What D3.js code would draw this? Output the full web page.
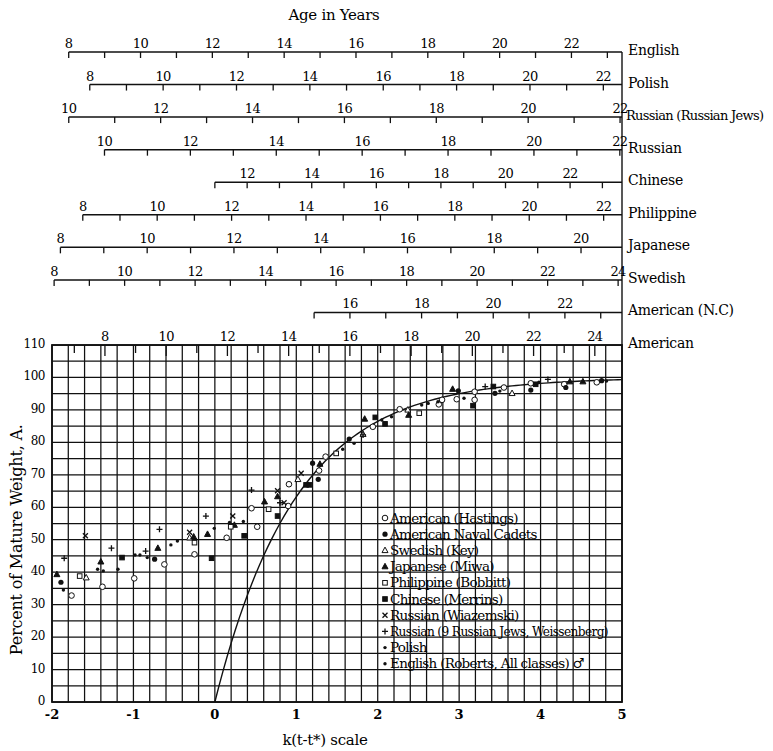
<!DOCTYPE html>
<html>
<head>
<meta charset="utf-8">
<script src="https://cdn.jsdelivr.net/npm/d3@7"></script>
<style>
  body { margin: 0; background: #fff; }
  text { font-family: "DejaVu Serif", serif; fill: #000; }
</style>
</head>
<body>
<div id="chart"></div>
<script>
// age scales, one row each, top to bottom (last one sits on the plot border)
const scaleNames = ["English", "Polish", "Russian (Russian Jews)", "Russian", "Chinese",
  "Philippine", "Japanese", "Swedish", "American (N.C)", "American"];
const scaleTStar = [12.07, 11.41, 13.18, 12.57, 11.0, 11.55, 11.56, 12.56, 12.23, 11.59];
const scaleK = [0.441, 0.4505, 0.5642, 0.5274, 0.3966, 0.4569, 0.5328, 0.4329, 0.44, 0.376];
const scaleStart = [8, 8, 10, 10, 11, 8, 8, 8, 15, 7];

const yTicks = [0, 10, 20, 30, 40, 50, 60, 70, 80, 90, 100, 110];
const xTicks = [-2, -1, 0, 1, 2, 3, 4, 5];

// observed points, [k(t-t*), percent]
const hastings = [[-1.76, 32.8], [-1.38, 35.5], [-0.99, 38.1], [-0.62, 42.4], [-0.25, 45.5], [0.145, 50.6],
  [0.52, 54.0], [0.45, 59.7], [0.90, 60.4], [0.91, 67.1], [1.28, 71.3], [1.36, 75.6], [1.94, 84.8],
  [2.27, 90.2], [2.75, 91.7], [2.79, 93.1], [2.97, 93.3], [3.19, 95.6], [3.19, 93.1], [3.55, 96.9],
  [3.88, 98.2], [4.29, 97.9], [4.69, 98.5]];
const naval = [[-1.89, 36.9], [-0.74, 44.0], [1.20, 73.6], [1.27, 68.6], [1.65, 81.0], [2.99, 95.9],
  [3.44, 95.1], [3.88, 96.1], [4.31, 96.9], [4.75, 99.0]];
const swedish = [[-1.58, 38.3], [-0.31, 50.6], [1.02, 68.6], [1.82, 82.5], [2.37, 90.0], [3.65, 95.1]];
const japanese = [[-1.94, 39.3], [-1.40, 43.2], [-0.70, 47.4], [-0.26, 50.9], [-0.09, 51.7], [0.24, 54.5],
  [0.61, 61.7], [0.77, 63.3], [1.29, 73.3], [1.84, 87.2], [2.38, 88.4], [2.92, 96.4], [4.36, 98.7], [4.52, 98.7]];
const philippine = [[-1.66, 38.8], [-0.25, 49.1], [0.195, 54.0], [0.66, 59.4], [1.49, 76.6], [2.51, 89.0]];
const chinese = [[-1.14, 44.5], [-0.04, 44.3], [0.36, 51.2], [0.77, 57.3], [1.12, 66.9], [1.16, 66.9],
  [1.97, 87.7], [2.09, 85.7], [3.17, 91.3], [3.42, 97.2], [3.94, 97.9]];
const wiazemski = [[-1.59, 51.2], [-0.31, 52.3], [0.22, 57.3], [0.77, 65.1], [0.85, 61.4], [1.06, 70.5]];
const weissenberg = [[-1.85, 44.3], [-1.27, 47.4], [-0.85, 46.5], [-0.68, 53.2], [-0.11, 57.3], [0.45, 65.3],
  [0.80, 61.4], [1.82, 82.3], [3.32, 97.2], [4.09, 99.4]];
const polish = [[-1.86, 34.5], [-1.44, 40.9], [-1.37, 40.4], [-1.19, 40.9], [-0.98, 45.3], [-0.92, 45.3],
  [-0.83, 44.5], [-0.54, 48.4], [-0.46, 49.6], [-0.007, 53.5], [0.18, 55.3], [0.35, 55.6], [1.57, 77.9],
  [1.71, 79.7], [2.05, 86.9], [2.17, 87.9], [2.54, 91.5], [3.06, 93.6], [3.98, 98.5]];
const english = [[2.62, 92.0], [2.74, 92.5], [3.50, 95.8], [4.81, 98.9]];

const seriesNames = ["American (Hastings)", "American Naval Cadets", "Swedish (Key)", "Japanese (Miwa)",
  "Philippine (Bobbitt)", "Chinese (Merrins)", "Russian (Wiazemski)",
  "Russian (9 Russian Jews, Weissenberg)", "Polish", "English (Roberts, All classes) \u2642"];
const seriesMarks = ["ocircle", "dot", "otri", "tri", "osq", "sq", "x", "plus", "small", "small"];
const seriesData = [hastings, naval, swedish, japanese, philippine, chinese, wiazemski, weissenberg, polish, english];

const W = 773, H = 751;
const svg = d3.select("#chart").append("svg").attr("width", W).attr("height", H);

const x = d3.scaleLinear().domain([-2, 5]).range([52, 622]);
const y = d3.scaleLinear().domain([0, 110]).range([702, 345]);
const rowY = d3.scaleLinear().domain([0, scaleNames.length - 1]).range([52, 345]);

// grid
const grid = svg.append("g").attr("stroke", "#111").attr("stroke-width", 1.25);
grid.selectAll(".v").data(d3.range(0, 36)).join("line")
  .attr("x1", i => x(-2 + i * 0.2)).attr("x2", i => x(-2 + i * 0.2))
  .attr("y1", y(0)).attr("y2", y(110));
grid.selectAll(".h").data(d3.range(0, 23)).join("line")
  .attr("x1", x(-2)).attr("x2", x(5))
  .attr("y1", i => y(i * 5)).attr("y2", i => y(i * 5));
svg.append("rect").attr("x", x(-2)).attr("y", y(110))
  .attr("width", x(5) - x(-2)).attr("height", y(0) - y(110))
  .attr("fill", "none").attr("stroke", "#111").attr("stroke-width", 1.8);

// right vertical line joining the age scales
svg.append("line").attr("x1", x(5)).attr("x2", x(5))
  .attr("y1", rowY(0)).attr("y2", y(110))
  .attr("stroke", "#111").attr("stroke-width", 1.4);

// age scales
scaleNames.forEach((name, i) => {
  const k = scaleK[i], ts = scaleTStar[i];
  const ageX = a => x(k * (a - ts));
  const endAge = ts + 5 / k;
  const ry = rowY(i);
  const g = svg.append("g");
  const last = i === scaleNames.length - 1;
  if (!last) {
    g.append("line").attr("x1", ageX(scaleStart[i])).attr("x2", x(5))
      .attr("y1", ry).attr("y2", ry).attr("stroke", "#111").attr("stroke-width", 1.5);
  }
  const ages = d3.range(scaleStart[i], Math.floor(endAge) + 1);
  g.selectAll("line.t").data(ages).join("line")
    .attr("x1", ageX).attr("x2", ageX)
    .attr("y1", ry).attr("y2", a => ry + (last ? (a % 2 === 0 ? 11 : 8) : 6))
    .attr("stroke", "#111").attr("stroke-width", 1.3);
  g.selectAll("text").data(ages.filter(a => a % 2 === 0)).join("text")
    .attr("x", ageX).attr("y", ry - 4)
    .attr("text-anchor", "middle").attr("font-size", 13).attr("letter-spacing", -0.6)
    .text(a => a);
  const long = name.length > 15;
  g.append("text").attr("x", long ? 626 : 628).attr("y", ry + 3)
    .attr("font-size", long ? 13 : 14).attr("letter-spacing", long ? -0.7 : -0.3)
    .text(name);
});

svg.append("text").attr("x", 334).attr("y", 20).attr("text-anchor", "middle")
  .attr("font-size", 15).attr("letter-spacing", -0.3).text("Age in Years");

// axes labels
svg.append("g").selectAll("text").data(yTicks).join("text")
  .attr("x", 45).attr("y", d => y(d) + 3).attr("text-anchor", "end")
  .attr("font-size", 12).attr("letter-spacing", -0.5).text(d => d);
svg.append("g").selectAll("text").data(xTicks).join("text")
  .attr("x", d => x(d)).attr("y", 719).attr("text-anchor", "middle")
  .attr("font-size", 13).attr("font-weight", "bold").text(d => d);

svg.append("text").attr("transform", `translate(22,${y(50)}) rotate(-90)`)
  .attr("text-anchor", "middle").attr("font-size", 16).attr("letter-spacing", -0.2)
  .text("Percent of Mature Weight, A.");
svg.append("text").attr("x", 325).attr("y", 745).attr("text-anchor", "middle")
  .attr("font-size", 15).attr("letter-spacing", -0.3).text("k(t-t*)  scale");

// theoretical curve
const curve = d3.range(0, 5.001, 0.05).map(u => [u, 100 * (1 - Math.exp(-u))]);
svg.append("path").datum(curve)
  .attr("d", d3.line().x(d => x(d[0])).y(d => y(d[1])))
  .attr("fill", "none").attr("stroke", "#111").attr("stroke-width", 1.4);

// markers
function mark(g, type, px, py) {
  const s = "#111";
  if (type === "ocircle") g.append("circle").attr("cx", px).attr("cy", py).attr("r", 2.8)
    .attr("fill", "#fff").attr("stroke", s).attr("stroke-width", 1);
  else if (type === "dot") g.append("circle").attr("cx", px).attr("cy", py).attr("r", 2.6).attr("fill", s);
  else if (type === "small") g.append("circle").attr("cx", px).attr("cy", py).attr("r", 1.7).attr("fill", s);
  else if (type === "otri" || type === "tri") g.append("path")
    .attr("d", `M${px},${py - 3.3}L${px + 3},${py + 2.2}L${px - 3},${py + 2.2}Z`)
    .attr("fill", type === "tri" ? s : "#fff").attr("stroke", s).attr("stroke-width", 1);
  else if (type === "osq" || type === "sq") g.append("rect")
    .attr("x", px - 2.3).attr("y", py - 2.3).attr("width", 4.6).attr("height", 4.6)
    .attr("fill", type === "sq" ? s : "#fff").attr("stroke", s).attr("stroke-width", 1);
  else if (type === "x") g.append("path")
    .attr("d", `M${px - 2.5},${py - 2.5}L${px + 2.5},${py + 2.5}M${px + 2.5},${py - 2.5}L${px - 2.5},${py + 2.5}`)
    .attr("stroke", s).attr("stroke-width", 1.3);
  else if (type === "plus") g.append("path")
    .attr("d", `M${px - 3},${py}L${px + 3},${py}M${px},${py - 3}L${px},${py + 3}`)
    .attr("stroke", s).attr("stroke-width", 1.3);
}

const pts = svg.append("g");
seriesData.forEach((data, i) => {
  data.forEach(d => mark(pts, seriesMarks[i], x(d[0]), y(d[1])));
});

// legend
const leg = svg.append("g");
seriesNames.forEach((name, i) => {
  const ly = 518 + i * 16.2;
  mark(leg, seriesMarks[i], 385, ly);
  const t = leg.append("text").attr("x", 390).attr("y", ly + 4.5)
    .attr("font-size", 13.5).attr("letter-spacing", -0.7).text(name);
  if (name.startsWith("Russian (9")) t.attr("textLength", 218).attr("lengthAdjust", "spacingAndGlyphs");
});
</script>
</body>
</html>
